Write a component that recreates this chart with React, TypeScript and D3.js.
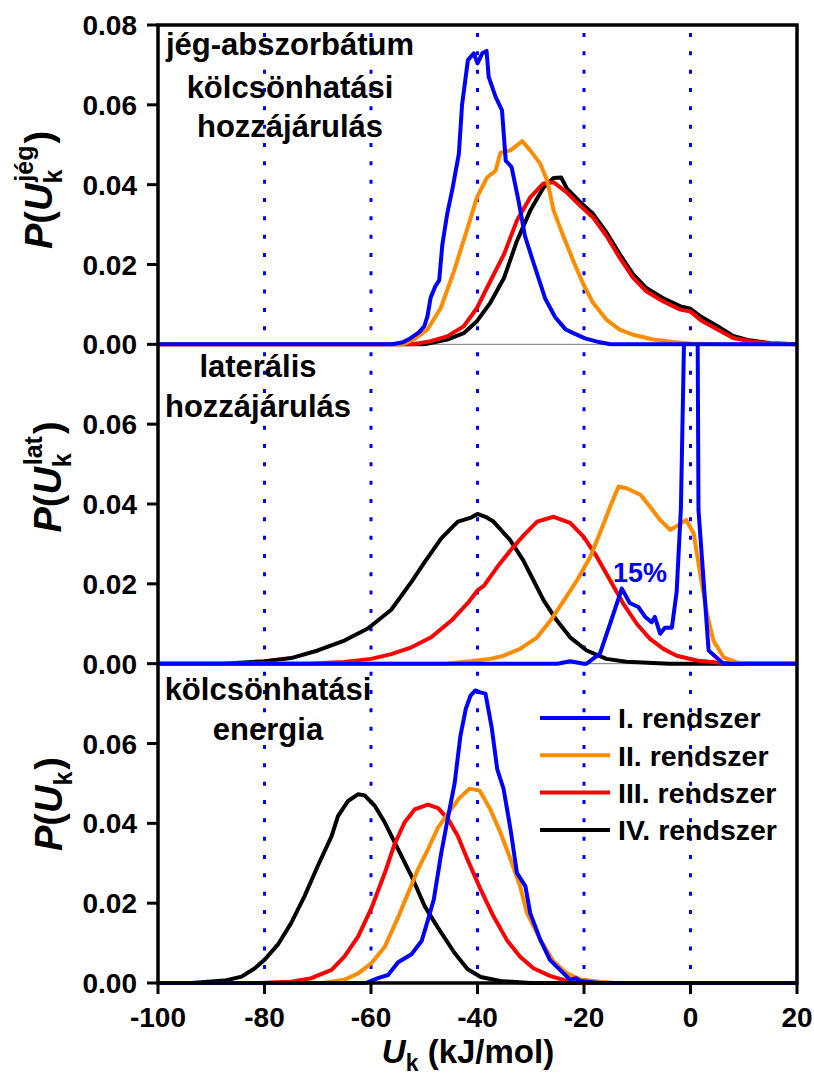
import React from 'react';
import * as d3 from 'd3';

// ---------- data ----------
const xTicks = [-100, -80, -60, -40, -20, 0, 20];
const guideX = [-80, -60, -40, -20, 0];
const yTicksTop = [0, 0.02, 0.04, 0.06, 0.08];
const yTicksLower = [0, 0.02, 0.04, 0.06];
const seriesNames = ['I. rendszer', 'II. rendszer', 'III. rendszer', 'IV. rendszer'];
const seriesColors = ['#0000ff', '#ff8c00', '#ff0000', '#000000'];

// panel 1: jég-abszorbátum kölcsönhatási hozzájárulás
const p1I: [number, number][] = [[-100,0],[-56,0],[-54,0.0005],[-52.5,0.0016],[-51,0.003],[-50,0.0045],[-49.4,0.007],[-48.8,0.0117],[-47.9,0.0146],[-47.2,0.016],[-46.6,0.025],[-45.7,0.0326],[-44.7,0.039],[-43.5,0.0477],[-42.9,0.06],[-41.8,0.0712],[-40.7,0.0729],[-40,0.0704],[-39.1,0.0729],[-38.3,0.0735],[-37.9,0.067],[-36.6,0.062],[-35.4,0.0586],[-34.7,0.046],[-33.6,0.0444],[-32.3,0.036],[-31.1,0.0272],[-29.5,0.0205],[-27.3,0.0115],[-25.4,0.0068],[-23.5,0.0038],[-22,0.0028],[-19.8,0.0015],[-17,0.0005],[-15,0],[20,0]];
const p1II: [number, number][] = [[-100,0],[-54,0],[-52,0.0012],[-49.4,0.0037],[-46.9,0.0091],[-44.4,0.0184],[-41.9,0.029],[-40.1,0.0368],[-38.2,0.0418],[-36.6,0.0435],[-35.7,0.048],[-33.8,0.0486],[-31.6,0.0509],[-30.1,0.0486],[-28.2,0.0452],[-26.9,0.041],[-25.7,0.0335],[-23.8,0.0268],[-22,0.0209],[-20.1,0.015],[-18.3,0.0104],[-15.8,0.0062],[-13.3,0.0037],[-10.8,0.0024],[-7,0.0012],[-3.3,0.0006],[0,0.0002],[5,0],[20,0]];
const p1III: [number, number][] = [[-100,0],[-52,0],[-48.8,0.0008],[-45.7,0.002],[-42.6,0.0045],[-40.1,0.0091],[-37.6,0.0158],[-35,0.0226],[-32.6,0.031],[-30.1,0.0368],[-27.6,0.0403],[-25.7,0.0406],[-23.2,0.038],[-20.7,0.0347],[-18.3,0.0318],[-15.8,0.0272],[-13.3,0.0217],[-10.8,0.0167],[-8.3,0.0133],[-5.2,0.0108],[-1.9,0.0087],[0,0.0082],[2,0.006],[5,0.0038],[8,0.0016],[11,0.0008],[15,0.0002],[20,0]];
const p1IV: [number, number][] = [[-100,0],[-50,0],[-45.7,0.0012],[-42.6,0.0028],[-40.1,0.0058],[-37.6,0.0104],[-35,0.0167],[-32.6,0.0259],[-30.1,0.0335],[-27.6,0.0393],[-25.7,0.0417],[-24.3,0.0418],[-23.2,0.039],[-20.7,0.0356],[-18.3,0.0327],[-15.8,0.0281],[-13.3,0.0226],[-10.8,0.0176],[-8.3,0.0141],[-5.2,0.0116],[-1.9,0.0095],[0,0.0089],[2,0.0069],[5,0.0046],[8,0.0021],[11,0.001],[15,0.0003],[20,0]];

// panel 2: laterális hozzájárulás
const p2I: [number, number][] = [[-100,0],[-25,0],[-22.6,0.0006],[-20,0],[-19.5,0],[-17,0.0025],[-15.1,0.01],[-12.9,0.0188],[-11.4,0.0152],[-9.8,0.0142],[-8.5,0.0117],[-7.3,0.0104],[-6.7,0.0117],[-5.7,0.0075],[-4.8,0.009],[-3.5,0.009],[-2.6,0.018],[-1.8,0.039],[-1.2,0.082],[-0.3,0.15],[0.5,0.15],[1.1,0.125],[1.35,0.08],[1.5,0.0385],[3.4,0.0033],[6.2,0],[20,0]];
const p2II: [number, number][] = [[-100,0],[-46,0],[-41.3,0.0006],[-37.6,0.0012],[-35.1,0.002],[-32,0.0037],[-28.8,0.0066],[-26.3,0.0108],[-23.8,0.0158],[-21.3,0.0209],[-18.8,0.0268],[-16.3,0.0351],[-15.1,0.0393],[-13.5,0.0444],[-11.9,0.0439],[-9.4,0.0423],[-7.6,0.0393],[-5.7,0.036],[-3.8,0.0335],[-2.3,0.0347],[-0.8,0.036],[0.6,0.0326],[1.8,0.0226],[3.1,0.0125],[4.3,0.0058],[6.2,0.0016],[8.7,0.0003],[11,0],[20,0]];
const p2III: [number, number][] = [[-100,0],[-72,0],[-65,0.0004],[-60,0.0012],[-56.2,0.0024],[-52.4,0.0041],[-48.7,0.0066],[-44.9,0.0108],[-41.8,0.0152],[-39.9,0.0185],[-38.8,0.0195],[-36.3,0.0242],[-33.8,0.0284],[-31.3,0.0322],[-28.8,0.0356],[-25.7,0.0368],[-22.6,0.0353],[-20.1,0.0318],[-17.6,0.0268],[-15.1,0.0209],[-12.6,0.015],[-10.1,0.01],[-7.6,0.0062],[-5.1,0.0037],[-2.6,0.002],[1.2,0.0008],[5.6,0.0002],[8,0],[20,0]];
const p2IV: [number, number][] = [[-100,0],[-88,0],[-84,0.0003],[-80,0.0006],[-75,0.0014],[-70,0.0033],[-65,0.0058],[-60.6,0.0088],[-59.3,0.0102],[-56.2,0.0135],[-52.4,0.0205],[-49.9,0.0255],[-46.8,0.0314],[-43.7,0.0356],[-41.2,0.0366],[-40,0.0375],[-38.5,0.0368],[-37,0.0356],[-33.9,0.031],[-31.4,0.0259],[-29.5,0.0209],[-27.6,0.0159],[-25.1,0.0108],[-22.6,0.0066],[-19.5,0.0033],[-15.8,0.0012],[-12,0.0005],[-8,0.0002],[-4,0],[20,0]];

// panel 3: kölcsönhatási energia
const p3I: [number, number][] = [[-100,0],[-61,0],[-58.7,0.0012],[-56.8,0.002],[-54.9,0.0052],[-52.4,0.0072],[-50.5,0.0105],[-49.3,0.0158],[-48.2,0.021],[-46.8,0.0326],[-45.5,0.0418],[-44.3,0.05],[-43.2,0.062],[-42.2,0.0687],[-41.3,0.072],[-40.4,0.0733],[-39.5,0.0728],[-38.5,0.0725],[-37.3,0.0637],[-36.3,0.0536],[-35.1,0.0486],[-33.8,0.0385],[-32.6,0.0276],[-31,0.0242],[-30.1,0.0175],[-28.2,0.0108],[-26.4,0.0058],[-24.5,0.0033],[-22.6,0.0008],[-21.5,0.0012],[-20.7,0.0005],[-17,0],[20,0]];
const p3II: [number, number][] = [[-100,0],[-69,0],[-65,0.0008],[-62.4,0.0024],[-59.9,0.005],[-57.4,0.0091],[-54.9,0.0165],[-53,0.0226],[-51.2,0.0284],[-49.3,0.0335],[-47.4,0.039],[-45.5,0.0425],[-43.5,0.0462],[-41.5,0.0487],[-39.6,0.0482],[-37.6,0.0435],[-35.7,0.0377],[-33.8,0.031],[-32,0.0242],[-30.7,0.0175],[-28.2,0.0108],[-25.7,0.0054],[-23.2,0.0024],[-20.7,0.0009],[-17,0.0003],[-14,0],[20,0]];
const p3III: [number, number][] = [[-100,0],[-81,0],[-75,0.0003],[-71.2,0.0012],[-67.4,0.0033],[-65,0.0066],[-62.4,0.0117],[-59.9,0.0188],[-57.4,0.0276],[-55.6,0.0347],[-53.7,0.0402],[-51.8,0.0435],[-49.3,0.0447],[-47.4,0.0438],[-45.5,0.041],[-43.7,0.0368],[-41.9,0.031],[-39.4,0.0234],[-37,0.0167],[-34.5,0.0108],[-32,0.0066],[-29.5,0.0037],[-26.4,0.0018],[-23.2,0.0005],[-21,0],[20,0]];
const p3IV: [number, number][] = [[-100,0],[-93.7,0],[-87.5,0.0006],[-84.3,0.0016],[-81.8,0.0037],[-80,0.0058],[-77.5,0.0096],[-75,0.015],[-72.5,0.0217],[-70,0.0293],[-67.4,0.0368],[-66.2,0.0418],[-64.3,0.0456],[-62.4,0.0473],[-61.2,0.047],[-59.3,0.0444],[-57.4,0.0402],[-54.9,0.0335],[-52.4,0.0268],[-49.9,0.0192],[-47.4,0.0138],[-44.4,0.0077],[-41.9,0.0035],[-39.4,0.0015],[-35.7,0.0005],[-30,0],[20,0]];

const panelLabels = [
  ['jég-abszorbátum', 'kölcsönhatási', 'hozzájárulás'],
  ['laterális', 'hozzájárulás'],
  ['kölcsönhatási', 'energia'],
];
const panelSup = ['jég', 'lat', ''];
const annotation = '15%';

// ---------- layout ----------
const W = 814, H = 1075;
const L = 158, R = 797, T = 25, B = 983;
const PH = (B - T) / 3;
const FONT = "Arial, 'Liberation Sans', Helvetica, sans-serif";

export default function App() {
  const x = d3.scaleLinear().domain([-100, 20]).range([L, R]);
  const panels = [
    { series: [p1I, p1II, p1III, p1IV], ticks: yTicksTop },
    { series: [p2I, p2II, p2III, p2IV], ticks: yTicksLower },
    { series: [p3I, p3II, p3III, p3IV], ticks: yTicksLower },
  ];
  const labelPos = [
    { cx: 290, ys: [55, 98, 137] },
    { cx: 258, ys: [377, 417] },
    { cx: 268, ys: [700, 740] },
  ];
  const titlePos = [
    { bx: 52, cy: 190 },
    { bx: 61, cy: 477 },
    { bx: 62, cy: 804 },
  ];

  return (
    <svg width={W} height={H} style={{ position: 'absolute', left: 0, top: 0, background: '#fff' }} fontFamily={FONT}>
      <defs>
        {panels.map((_, i) => (
          <clipPath id={`clip${i}`} key={i}>
            <rect x={L} y={T + i * PH} width={R - L} height={PH + 2.5} />
          </clipPath>
        ))}
      </defs>
      <rect x={0} y={0} width={W} height={H} fill="#fff" />
      {panels.map((p, i) => {
        const top = T + i * PH;
        const y = d3.scaleLinear().domain([0, 0.08]).range([top + PH, top]);
        const line = d3.line<[number, number]>().x(d => x(d[0])).y(d => y(d[1]));
        const order = [3, 2, 1, 0];
        return (
          <g key={i}>
            {guideX.map(g => (
              <line key={g} x1={x(g)} x2={x(g)} y1={top} y2={top + PH}
                stroke="#0000ff" strokeWidth={3} strokeDasharray="4 14.33" strokeDashoffset={10.33} />
            ))}
            <line x1={L} x2={R} y1={top + PH} y2={top + PH} stroke="#777" strokeWidth={1} />
            {p.ticks.map(t => (
              <g key={t}>
                <line x1={L - 11} x2={L} y1={y(t)} y2={y(t)} stroke="#000" strokeWidth={3} />
                <text x={137} y={y(t)} dy="0.36em" textAnchor="end" fontSize={28} fontWeight="bold">{t.toFixed(2)}</text>
              </g>
            ))}
            <g clipPath={`url(#clip${i})`}>
              {order.map(k => (
                <path key={k} d={line(p.series[k]) || ''} fill="none" stroke={seriesColors[k]}
                  strokeWidth={4} strokeLinejoin="round" />
              ))}
            </g>
            {panelLabels[i].map((s, j) => (
              <text key={j} x={labelPos[i].cx} y={labelPos[i].ys[j]} textAnchor="middle" fontSize={31} fontWeight="bold">{s}</text>
            ))}
            <g transform={`translate(${titlePos[i].bx},${titlePos[i].cy}) rotate(-90)`}>
              <text x={0} y={0} textAnchor="middle" fontSize={38} fontWeight="bold">
                <tspan fontStyle="italic">P</tspan>
                <tspan>(</tspan>
                <tspan fontStyle="italic">U</tspan>
                <tspan fontSize={25} dy={10}>k</tspan>
                {panelSup[i] ? (
                  <tspan fontSize={25} dx={-12} dy={-29}>{panelSup[i]}</tspan>
                ) : null}
                <tspan dy={panelSup[i] ? 19 : -10} dx={2}>)</tspan>
              </text>
            </g>
          </g>
        );
      })}
      <rect x={L} y={T} width={R - L} height={B - T} fill="none" stroke="#000" strokeWidth={3.5} />
      {xTicks.map(t => (
        <g key={t}>
          <line x1={x(t)} x2={x(t)} y1={B} y2={B + 11} stroke="#000" strokeWidth={3} />
          <text x={x(t)} y={1027} textAnchor="middle" fontSize={28} fontWeight="bold">{t}</text>
        </g>
      ))}
      <text x={468} y={1063} textAnchor="middle" fontSize={33} fontWeight="bold">
        <tspan fontStyle="italic">U</tspan>
        <tspan fontSize={23} dy={8}>k</tspan>
        <tspan dy={-8}> (kJ/mol)</tspan>
      </text>
      <text x={640} y={582} textAnchor="middle" fontSize={27} fontWeight="bold" fill="#0000ff">{annotation}</text>
      {seriesNames.map((n, k) => {
        const ly = 718 + k * 37.3;
        return (
          <g key={n}>
            <line x1={540} x2={610} y1={ly} y2={ly} stroke={seriesColors[k]} strokeWidth={4} />
            <text x={618} y={ly} dy="0.36em" fontSize={28.5} fontWeight="bold">{n}</text>
          </g>
        );
      })}
    </svg>
  );
}
